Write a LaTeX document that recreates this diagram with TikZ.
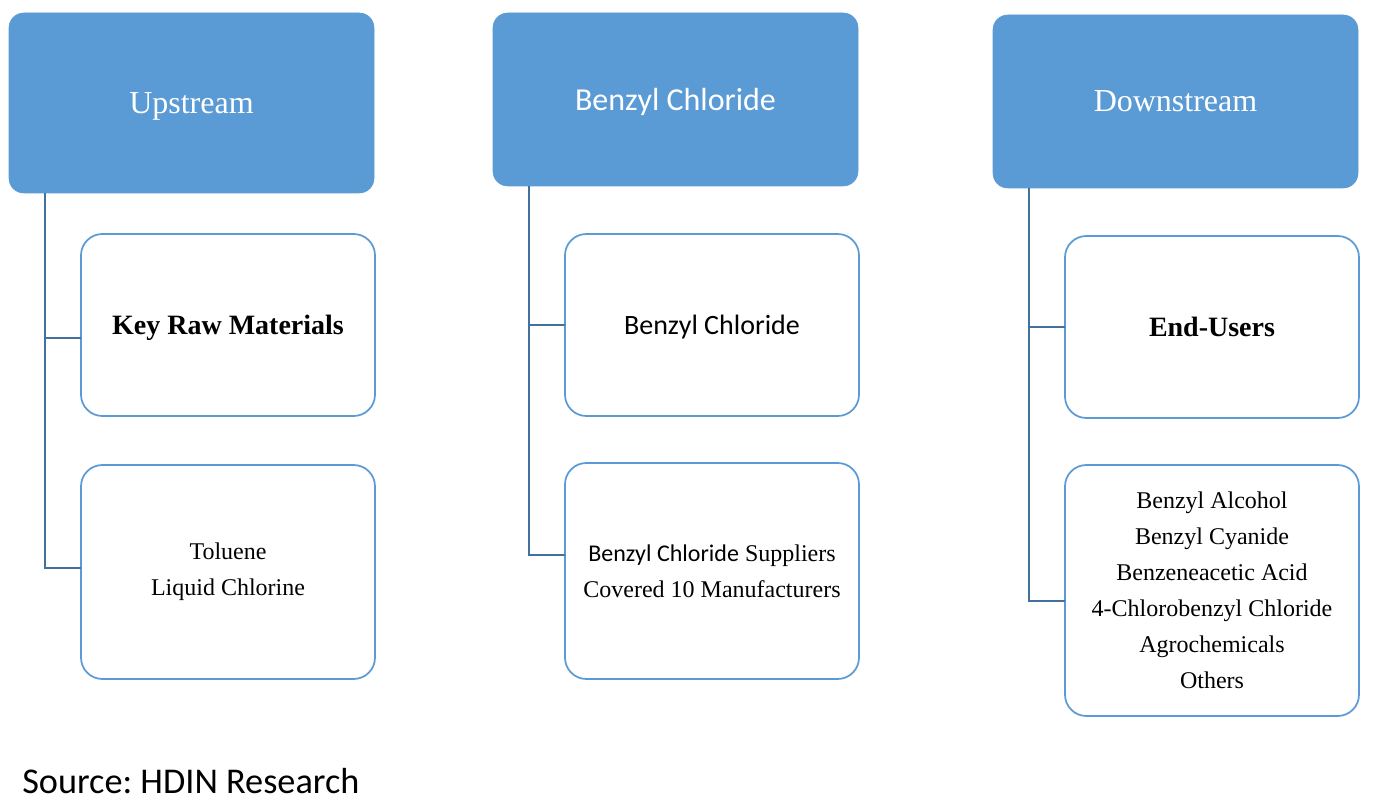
\documentclass[tikz,border=0pt]{standalone}
\usepackage{fontspec}
\setmainfont{Liberation Serif}
\newfontfamily\calib{Carlito}
\usetikzlibrary{positioning}
\definecolor{hdrblue}{HTML}{5B9BD5}
\definecolor{linkblue}{HTML}{41719C}
\tikzset{
  hdr/.style={draw=hdrblue, fill=hdrblue, rounded corners=11pt, inner sep=0pt, outer sep=0pt,
    minimum width=273.75pt, text=white, text depth=0pt, font=\fontsize{24}{29}\selectfont},
  item/.style={draw=hdrblue, line width=1.3pt, fill=white, rounded corners=16pt, inner sep=0pt, outer sep=0pt,
    minimum width=220.5pt, align=center},
  link/.style={draw=linkblue, line width=1.3pt},
  big/.style={font=\fontsize{21}{26}\selectfont, text depth=0pt},
  small/.style={font=\fontsize{18}{27}\selectfont}
}
\begin{document}
\begin{tikzpicture}[x=0.75pt,y=-0.75pt]
			%%%%% START %%%%%
			\useasboundingbox (0,0) rectangle (1379,812);
			
			% headers
			\node[hdr, minimum height=135pt] (up) at (191.5,103) {Upstream};
			\node[hdr, minimum height=129.75pt, font=\calib\fontsize{24}{29}\selectfont] (bc) at (675.5,99.5) {Benzyl Chloride};
			\node[hdr, minimum height=129.75pt] (dn) at (1175.5,101.5) {Downstream};
			
			% upstream column
			\node[item, big, minimum height=136.5pt] (raw) at (228,325) {\textbf{Key Raw Materials}};
			\node[item, small, minimum height=160.5pt] (tol) at (228,572) {Toluene\\Liquid Chlorine};
			
			% middle column
			\node[item, big, minimum height=136.5pt, font=\calib\fontsize{21}{26}\selectfont] (bcb) at (712,325) {Benzyl Chloride};
			\node[item, small, minimum height=162pt] (sup) at (712,571) {{\calib Benzyl Chloride} Suppliers\\Covered 10 Manufacturers};
			
			% downstream column
			\node[item, big, minimum height=136.5pt] (eu) at (1212,327) {\textbf{End-Users}};
			\node[item, small, minimum height=188.25pt] (apps) at (1212,590.5) {Benzyl Alcohol\\Benzyl Cyanide\\Benzeneacetic Acid\\4-Chlorobenzyl Chloride\\Agrochemicals\\Others};
			
			% connectors
			\coordinate (upT) at (45,193);
			\coordinate (bcT) at (529,186);
			\coordinate (dnT) at (1029,188);
			\draw[link] (upT) |- ([yshift=-9.75pt]raw.west);
			\draw[link] (upT) |- ([yshift=3pt]tol.west);
			\draw[link] (bcT) |- (bcb.west);
			\draw[link] (bcT) |- ([yshift=12pt]sup.west);
			\draw[link] (dnT) |- (eu.west);
			\draw[link] (dnT) |- ([yshift=-7.9pt]apps.west);
			
			\node[font=\calib\fontsize{27.2}{32}\selectfont, anchor=west, inner sep=0pt] (src) at (22,781) {Source:\ HDIN Research};
			%%%%% END %%%%%
\end{tikzpicture}
\end{document}
